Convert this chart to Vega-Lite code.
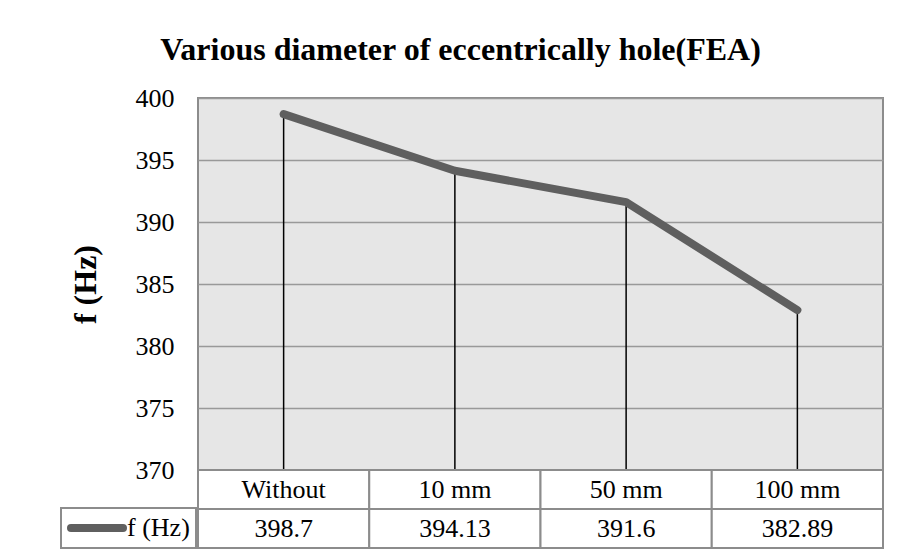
{
  "$schema": "https://vega.github.io/schema/vega-lite/v6.json",
  "background": "white",
  "padding": {"left": 59, "top": 34, "right": 18, "bottom": 9},
  "title": {
    "text": "Various diameter of eccentrically hole(FEA)",
    "font": "Liberation Serif",
    "fontSize": 32,
    "fontWeight": "bold",
    "color": "black",
    "anchor": "middle",
    "dx": -11,
    "offset": 17
  },
  "datasets": {
    "freq": [
      {"diameter": "Without", "f": 398.7},
      {"diameter": "10 mm", "f": 394.13},
      {"diameter": "50 mm", "f": 391.6},
      {"diameter": "100 mm", "f": 382.89}
    ]
  },
  "bounds": "flush",
  "spacing": 0,
  "resolve": {"legend": {"color": "independent"}},
  "vconcat": [
    {
      "width": 685,
      "height": 372,
      "view": {"fill": "#e6e6e6", "stroke": "#8c8c8c", "strokeWidth": 2},
      "data": {"name": "freq"},
      "encoding": {
        "x": {
          "field": "diameter",
          "type": "nominal",
          "sort": null,
          "axis": null,
          "scale": {"type": "point", "padding": 0.5}
        }
      },
      "layer": [
        {
          "mark": {"type": "rule", "color": "black", "strokeWidth": 1.5},
          "encoding": {
            "y": {"field": "f", "type": "quantitative"},
            "y2": {"datum": 370}
          }
        },
        {
          "mark": {"type": "line", "strokeWidth": 8, "strokeCap": "round", "strokeJoin": "round"},
          "encoding": {
            "y": {
              "field": "f",
              "type": "quantitative",
              "scale": {"domain": [370, 400], "nice": false, "zero": false},
              "axis": {
                "values": [370, 375, 380, 385, 390, 395, 400],
                "grid": true,
                "gridColor": "#999999",
                "gridWidth": 1.5,
                "domain": false,
                "ticks": false,
                "labelFont": "Liberation Serif",
                "labelFontSize": 26,
                "labelColor": "black",
                "labelPadding": 24,
                "title": "f (Hz)",
                "titleFont": "Liberation Serif",
                "titleFontSize": 32,
                "titleFontWeight": "bold",
                "titleColor": "black",
                "titlePadding": 33
              }
            },
            "color": {
              "datum": "f (Hz)",
              "type": "nominal",
              "scale": {"range": ["#5f5f5f"]},
              "legend": {
                "orient": "none",
                "legendX": -137,
                "legendY": 410,
                "title": null,
                "symbolType": "stroke",
                "symbolSize": 2704,
                "symbolStrokeWidth": 8,
                "symbolStrokeColor": "#5f5f5f",
                "labelFont": "Liberation Serif",
                "labelFontSize": 26,
                "labelColor": "black",
                "labelOffset": 0,
                "padding": 6,
                "clipHeight": 28,
                "strokeColor": "#8c8c8c",
                "fillColor": "white",
                "encode": {
                  "legend": {"update": {"strokeWidth": {"value": 2}}},
                  "symbols": {"update": {"strokeCap": {"value": "round"}}}
                }
              }
            }
          }
        }
      ]
    },
    {
      "width": 685,
      "height": 78,
      "view": {"stroke": null},
      "data": {"name": "freq"},
      "encoding": {
        "x": {
          "field": "diameter",
          "type": "nominal",
          "sort": null,
          "axis": null,
          "scale": {"type": "band", "paddingInner": 0, "paddingOuter": 0}
        }
      },
      "layer": [
        {
          "mark": {"type": "rect", "fill": "white", "stroke": "#8c8c8c", "strokeWidth": 2},
          "encoding": {
            "y": {
              "datum": "names",
              "type": "nominal",
              "axis": null,
              "scale": {"type": "band", "domain": ["names", "values"], "paddingInner": 0, "paddingOuter": 0}
            }
          }
        },
        {
          "mark": {"type": "rect", "fill": "white", "stroke": "#8c8c8c", "strokeWidth": 2},
          "encoding": {"y": {"datum": "values", "type": "nominal"}}
        },
        {
          "mark": {"type": "text", "font": "Liberation Serif", "fontSize": 26, "color": "black", "baseline": "middle"},
          "encoding": {
            "y": {"datum": "names", "type": "nominal"},
            "text": {"field": "diameter", "type": "nominal"}
          }
        },
        {
          "mark": {"type": "text", "font": "Liberation Serif", "fontSize": 26, "color": "black", "baseline": "middle"},
          "encoding": {
            "y": {"datum": "values", "type": "nominal"},
            "text": {"field": "f", "type": "nominal"}
          }
        }
      ]
    }
  ]
}
